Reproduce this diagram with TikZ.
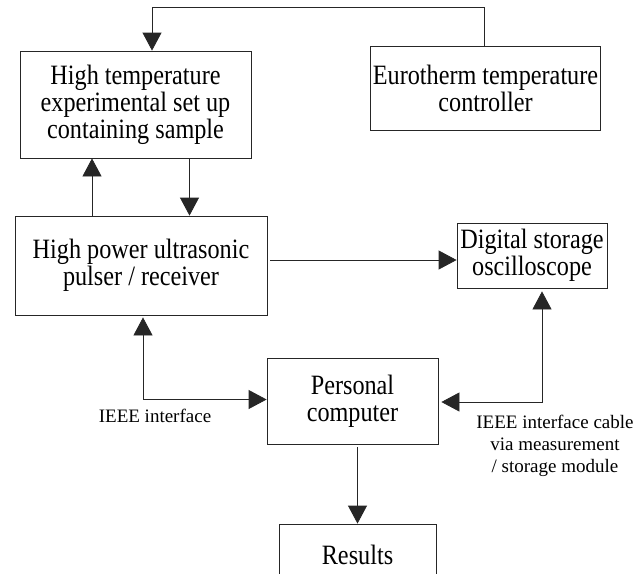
\documentclass[tikz,border=0pt]{standalone}
\usepackage{fontspec}
\setmainfont{Liberation Serif}
\newfontfamily\boxfont{Liberation Serif}[FakeStretch=0.865]
\usetikzlibrary{arrows.meta}

\begin{document}
\begin{tikzpicture}
[x=1pt,y=1pt,
 unit/.style={draw=black!85,line width=0.8pt,align=center,inner sep=2pt,
   font=\boxfont\fontsize{28}{27}\selectfont},
 note/.style={align=center,inner sep=0pt,font=\fontsize{19}{22}\selectfont},
 arr/.style={draw=black!85,line width=0.8pt,-{Triangle[length=18pt,width=19pt]}},
 arrs/.style={draw=black!85,line width=0.8pt,
   {Triangle[length=18pt,width=19pt]}-{Triangle[length=18pt,width=19pt]}}]
\useasboundingbox[fill=white] (0,0) rectangle (634,-573);
% boxes
\node[unit,minimum width=231pt,minimum height=107pt] (setup) at (135.5,-104.5)
  {High temperature\\experimental set up\\containing sample};
\node[unit,minimum width=229pt,minimum height=84pt] (euro) at (485.5,-88)
  {Eurotherm temperature\\controller};
\node[unit,minimum width=252pt,minimum height=99pt] (pulser) at (141,-265.5)
  {High power ultrasonic\\pulser / receiver};
\node[unit,minimum width=150pt,minimum height=65pt] (scope) at (532,-255.5)
  {Digital storage\\oscilloscope};
\node[unit,minimum width=171pt,minimum height=86pt] (pc) at (352.5,-401)
  {Personal\\computer};
\node[unit,minimum width=157pt,minimum height=62pt] (res) at (357.5,-555)
  {Results};
% labels
\node[note] (ieee) at (155,-416) {IEEE interface};
\node[note] (cable) at (555,-446)
  {IEEE interface cable\\via measurement\\/ storage module};
% connections
\coordinate (bend) at (152,-7);
\draw[arr] ([xshift=-1.5pt]euro.north) |- (bend) -- (setup.north -| bend);
\draw[arr] ([xshift=-49pt]pulser.north) -- ([xshift=-43.5pt]setup.south);
\draw[arr] ([xshift=54pt]setup.south) -- ([xshift=48.5pt]pulser.north);
\draw[arr] ([shift={(3pt,5.5pt)}]pulser.east) -- ([yshift=-4.5pt]scope.west);
\draw[arrs,shorten <=2pt] ([xshift=2pt]pulser.south) |- ([yshift=1.5pt]pc.west);
\draw[arrs,shorten <=3pt,shorten >=3pt] ([xshift=10pt]scope.south) |- ([yshift=-1pt]pc.east);
\draw[arr,shorten <=3pt] (pc.south -| res.north) -- (res.north);
\end{tikzpicture}
\end{document}
